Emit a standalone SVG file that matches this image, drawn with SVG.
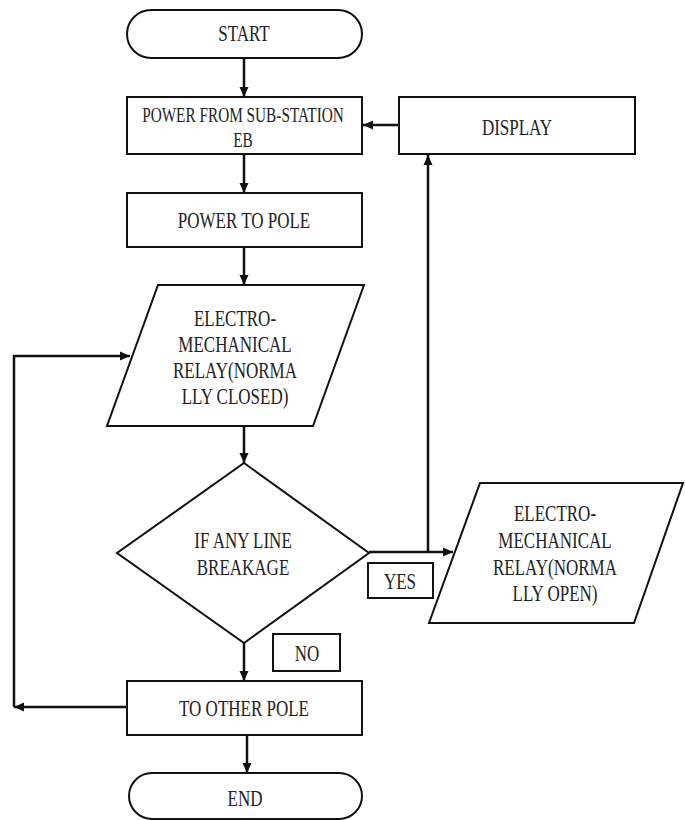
<svg xmlns="http://www.w3.org/2000/svg" width="685" height="820" viewBox="0 0 685 820">
<style>
.shape{fill:#fff;stroke:#111;stroke-width:2}
.conn{fill:none;stroke:#111;stroke-width:2.5}
.t{font-family:'Liberation Serif','Times New Roman',serif;font-size:17px;fill:#222;text-anchor:middle}
.s{font-size:15.3px}
</style>
<defs>
<marker id="ah" markerUnits="userSpaceOnUse" markerWidth="10" markerHeight="10" viewBox="0 0 10 10" refX="10" refY="5" orient="auto">
<path d="M0,0.5 L10,5 L0,9.5 z" fill="#111"/>
</marker>
</defs>
<rect width="685" height="820" fill="#fff"/>
<g id="connectors">
<path class="conn" d="M244,58 L244,97" marker-end="url(#ah)"/>
<path class="conn" d="M244,154 L244,193" marker-end="url(#ah)"/>
<path class="conn" d="M244,247 L244,285" marker-end="url(#ah)"/>
<path class="conn" d="M244,426 L244,463" marker-end="url(#ah)"/>
<path class="conn" d="M369,552 L453,552" marker-end="url(#ah)"/>
<path class="conn" d="M428,552 L428,155" marker-end="url(#ah)"/>
<path class="conn" d="M399,125 L363,125" marker-end="url(#ah)"/>
<path class="conn" d="M244,643 L244,681" marker-end="url(#ah)"/>
<path class="conn" d="M127,707 L14,707" marker-end="url(#ah)"/>
<path class="conn" d="M14,707 L14,356 L130,356" marker-end="url(#ah)"/>
<path class="conn" d="M247,735 L247,773" marker-end="url(#ah)"/>
</g>
<g id="start">
<rect class="shape" x="127" y="10" width="235" height="48" rx="24" ry="24"/>
<text class="t" transform="translate(244,41) scale(1,1.4)">START</text>
</g>
<g id="power-substation">
<rect class="shape" x="127" y="97" width="235" height="57"/>
<text class="t s" transform="translate(243,122) scale(1,1.35)">POWER FROM SUB-STATION</text>
<text class="t s" transform="translate(243,147) scale(1,1.35)">EB</text>
</g>
<g id="display">
<rect class="shape" x="399" y="97" width="236" height="57"/>
<text class="t" transform="translate(517,135) scale(1,1.3)">DISPLAY</text>
</g>
<g id="power-pole">
<rect class="shape" x="127" y="193" width="235" height="54"/>
<text class="t" transform="translate(244,228) scale(1,1.4)">POWER TO POLE</text>
</g>
<g id="relay-closed">
<polygon class="shape" points="158,285 364,285 313,426 107,426"/>
<text class="t" transform="translate(235,326) scale(1,1.4)">ELECTRO-</text>
<text class="t" transform="translate(235,352) scale(1,1.4)">MECHANICAL</text>
<text class="t" transform="translate(235,378) scale(1,1.4)">RELAY(NORMA</text>
<text class="t" transform="translate(235,404) scale(1,1.4)">LLY CLOSED)</text>
</g>
<g id="decision">
<polygon class="shape" points="244,463 369,553 244,643 117,553"/>
<text class="t" transform="translate(243,548) scale(1,1.4)">IF ANY LINE</text>
<text class="t" transform="translate(243,575) scale(1,1.4)">BREAKAGE</text>
</g>
<g id="yes-label">
<rect class="shape" x="368" y="563" width="65" height="35" stroke-width="2.5"/>
<text class="t" transform="translate(400,589) scale(1,1.4)">YES</text>
</g>
<g id="relay-open">
<polygon class="shape" points="480,483 683,483 634,623 429,623"/>
<text class="t" transform="translate(555,521) scale(1,1.4)">ELECTRO-</text>
<text class="t" transform="translate(555,548) scale(1,1.4)">MECHANICAL</text>
<text class="t" transform="translate(555,575) scale(1,1.4)">RELAY(NORMA</text>
<text class="t" transform="translate(555,601) scale(1,1.4)">LLY OPEN)</text>
</g>
<g id="no-label">
<rect class="shape" x="273" y="634" width="67" height="37" stroke-width="2.5"/>
<text class="t" transform="translate(307,661) scale(1,1.4)">NO</text>
</g>
<g id="other-pole">
<rect class="shape" x="127" y="681" width="235" height="54"/>
<text class="t" transform="translate(244,716) scale(1,1.4)">TO OTHER POLE</text>
</g>
<g id="end">
<rect class="shape" x="129" y="773" width="233" height="46" rx="23" ry="23"/>
<text class="t" transform="translate(245,806) scale(1,1.4)">END</text>
</g>
</svg>
